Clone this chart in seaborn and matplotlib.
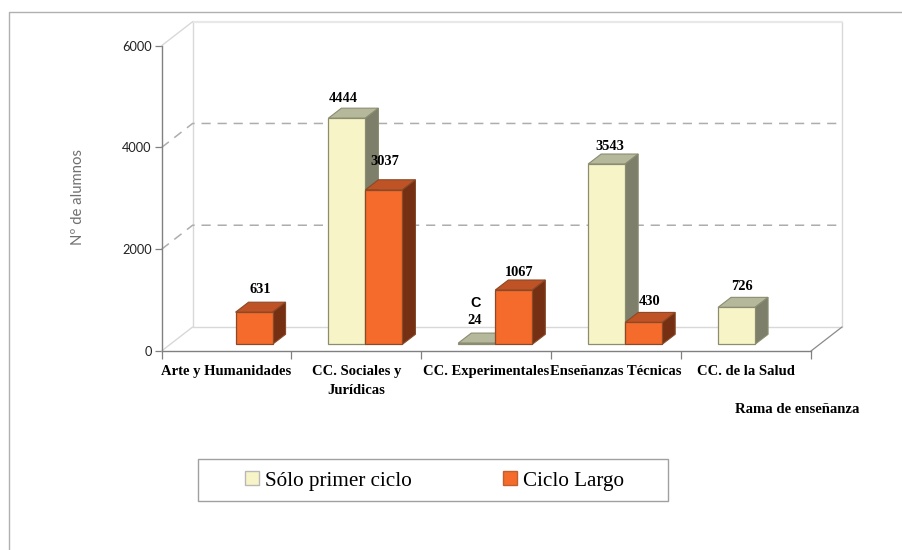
import matplotlib
matplotlib.use("Agg")
import matplotlib.pyplot as plt
import numpy as np
import pandas as pd
import seaborn as sns
from matplotlib.lines import Line2D
from matplotlib.patches import Polygon, Rectangle

sns.set_theme(style="white")
plt.rcParams['font.family'] = ['Liberation Serif', 'DejaVu Sans']

# datos
ramas = ["Arte y Humanidades", "CC. Sociales y\nJurídicas", "CC. Experimentales",
         "Enseñanzas Técnicas", "CC. de la Salud"]
primer_ciclo = [np.nan, 4444, 24, 3543, 726]
ciclo_largo = [631, 3037, 1067, 430, np.nan]
series = ["Sólo primer ciclo", "Ciclo Largo"]
y_ticks = [0, 2000, 4000, 6000]

# ajuste de las etiquetas en pixeles, respecto al centro de la barra
nudge_primer = [None, (-4, 20), (-2, 23), (3, 18), (5, 21)]
nudge_largo = [(6, 23), (1, 28), (5, 18), (6, 21), None]

colores = {"Sólo primer ciclo": ("#F7F5C8", "#B5B89A", "#7D7F6B", "#8C8C70"),
           "Ciclo Largo": ("#F46B2B", "#BF5326", "#752F12", "#8A4A28")}

W, H = 903, 550
fig = plt.figure(figsize=(W / 100, H / 100), dpi=100)
ax = fig.add_axes([161.6 / W, 1 - 351 / H, 649.4 / W, 305.3 / H])

df = pd.DataFrame({"rama": ramas * 2,
                   "serie": [series[0]] * 5 + [series[1]] * 5,
                   "valor": primer_ciclo + ciclo_largo}).dropna()
df["rama"] = pd.Categorical(df["rama"], categories=ramas)

sns.barplot(data=df, x="rama", y="valor", hue="serie", hue_order=series, order=ramas,
            palette={s: colores[s][0] for s in series}, width=0.57, gap=0, dodge=True,
            saturation=1, ax=ax, legend=True)

ax.set_xlim(-0.5, 4.5)
ax.set_ylim(0, 6000)

# paredes del falso 3D, en unidades de los datos
px_x = 5 / 649.4
px_y = 6000 / 305.3
wall_dx, wall_dy = 31 * px_x, 24 * px_y
bar_ox, bar_oy = 9 * px_x, 6.7 * px_y
bar_dx, bar_dy = 13 * px_x, 10 * px_y

x0, x1 = -0.5, 4.5
claro = "#D8D8D8"
ax.plot([x0 + wall_dx, x0 + wall_dx], [wall_dy, 6000 + wall_dy], color=claro, lw=1, clip_on=False, zorder=1)
ax.plot([x1 + wall_dx, x1 + wall_dx], [wall_dy, 6000 + wall_dy], color=claro, lw=1, clip_on=False, zorder=1)
ax.plot([x0 + wall_dx, x1 + wall_dx], [wall_dy, wall_dy], color=claro, lw=1, clip_on=False, zorder=1)
ax.plot([x0 + wall_dx, x1 + wall_dx], [6000 + wall_dy] * 2, color="#E8E8E8", lw=1.6, clip_on=False, zorder=1)
ax.plot([x0, x0 + wall_dx], [6000, 6000 + wall_dy], color=claro, lw=1, clip_on=False, zorder=1)
ax.plot([x0, x0 + wall_dx], [0, wall_dy], color=claro, lw=1, clip_on=False, zorder=1)
ax.plot([x1, x1 + wall_dx], [0, wall_dy], color="#8A8A8A", lw=0.9, clip_on=False, zorder=1)
for v in y_ticks[1:3]:
    ax.plot([x0, x0 + wall_dx, x1 + wall_dx], [v, v + wall_dy, v + wall_dy], color="#ADADAD", lw=1.1,
            ls=(0, (6, 4.5)), clip_on=False, zorder=1)

# barras con cara superior y lateral
orden = 3
nudges = {series[0]: nudge_primer, series[1]: nudge_largo}
valores = {series[0]: primer_ciclo, series[1]: ciclo_largo}
etiquetas = []
for cont, serie in zip(ax.containers, series):
    frente, arriba, lado, borde = colores[serie]
    presentes = [i for i, v in enumerate(valores[serie]) if not np.isnan(v)]
    for patch, i in zip(cont.patches, presentes):
        patch.set_x(patch.get_x() + bar_ox)
        patch.set_y(bar_oy)
        a, w, h = patch.get_x(), patch.get_width(), patch.get_height()
        b = bar_oy
        top = Polygon([(a, b + h), (a + bar_dx, b + h + bar_dy), (a + w + bar_dx, b + h + bar_dy), (a + w, b + h)],
                      fc=arriba, ec=borde, lw=0.8, clip_on=False)
        side = Polygon([(a + w, b), (a + w + bar_dx, b + bar_dy), (a + w + bar_dx, b + h + bar_dy), (a + w, b + h)],
                       fc=lado, ec=borde, lw=0.8, clip_on=False)
        ax.add_patch(top)
        ax.add_patch(side)
        patch.set_edgecolor(borde)
        patch.set_linewidth(0.9)
        patch.set_clip_on(False)
        top.set_zorder(orden + (i * 10))
        side.set_zorder(orden + (i * 10) + 1)
        patch.set_zorder(orden + (i * 10) + 2)
        etiquetas.append((a + w / 2, b + h, valores[serie][i], nudges[serie][i]))
    orden += 5

for x, y, v, (nx, ny) in etiquetas:
    ax.annotate(f"{int(v)}", (x, y), xytext=(nx, ny), textcoords="offset pixels", ha="center", va="center",
                fontsize=10.4, fontweight="bold", color="black", zorder=100, annotation_clip=False)
# la C suelta que aparece sobre el 24
ax.annotate("C", (2 - 0.285 + bar_ox + 0.1425, bar_oy), xytext=(-1, 41), textcoords="offset pixels", ha="center",
            va="center", fontsize=10.4, fontweight="bold", family="Liberation Sans", color="black", zorder=100,
            annotation_clip=False)

# ejes
sns.despine(ax=ax, top=True, right=True)
for s in ["left", "bottom"]:
    ax.spines[s].set_color("#808080")
    ax.spines[s].set_linewidth(1)
ax.patch.set_alpha(0)
ax.set_yticks(y_ticks)
ax.set_yticklabels([str(t) for t in y_ticks], family="Lato", fontsize=9.2, color="#222222")
ax.tick_params(axis="y", length=5, width=0.9, color="#808080", pad=2, left=True)
ax.set_xticks(range(5))
ax.set_xticklabels(ramas, fontsize=10.5, fontweight="bold", color="black", linespacing=1.65)
ax.set_xticks(np.arange(-0.5, 5), minor=True)
ax.tick_params(axis="x", which="major", length=0, pad=10)
ax.tick_params(axis="x", which="minor", length=6, width=0.9, color="#808080", bottom=True)
ax.set_xlabel("")
ax.set_ylabel("")

fig.text(78 / W, 1 - 197 / H, "Nº de alumnos", rotation=90, ha="center", va="center", family="Lato",
         fontsize=10.7, color="#707070")
fig.text(797.5 / W, 1 - 409.5 / H, "Rama de enseñanza", ha="center", va="center", fontsize=10.6, fontweight="bold",
         color="black")

# leyenda y marcos
handles, labels = ax.get_legend_handles_labels()
ax.get_legend().remove()
for handle, serie in zip(handles, labels):
    handle.set_edgecolor("#B8B8B8" if serie == series[0] else "#C06030")
fig.add_artist(Rectangle((198.5 / W, 1 - 501 / H), 469.5 / W, 42.5 / H, transform=fig.transFigure, fc="white",
                         ec="#A0A0A0", lw=1))
fig.legend(handles, labels, loc="center left", bbox_to_anchor=(245 / W, 1 - 481 / H), frameon=False, ncol=2,
           fontsize=15.2, handlelength=0.68, handleheight=0.66, handletextpad=0.28, columnspacing=4.3,
           borderpad=0, borderaxespad=0, labelcolor="black")

fig.add_artist(Line2D([8.5 / W, 8.5 / W, 1], [0, 1 - 11.5 / H, 1 - 11.5 / H], color="#B0B0B0", lw=1,
                      transform=fig.transFigure))

fig.savefig("out.png", dpi=100, facecolor="white")
